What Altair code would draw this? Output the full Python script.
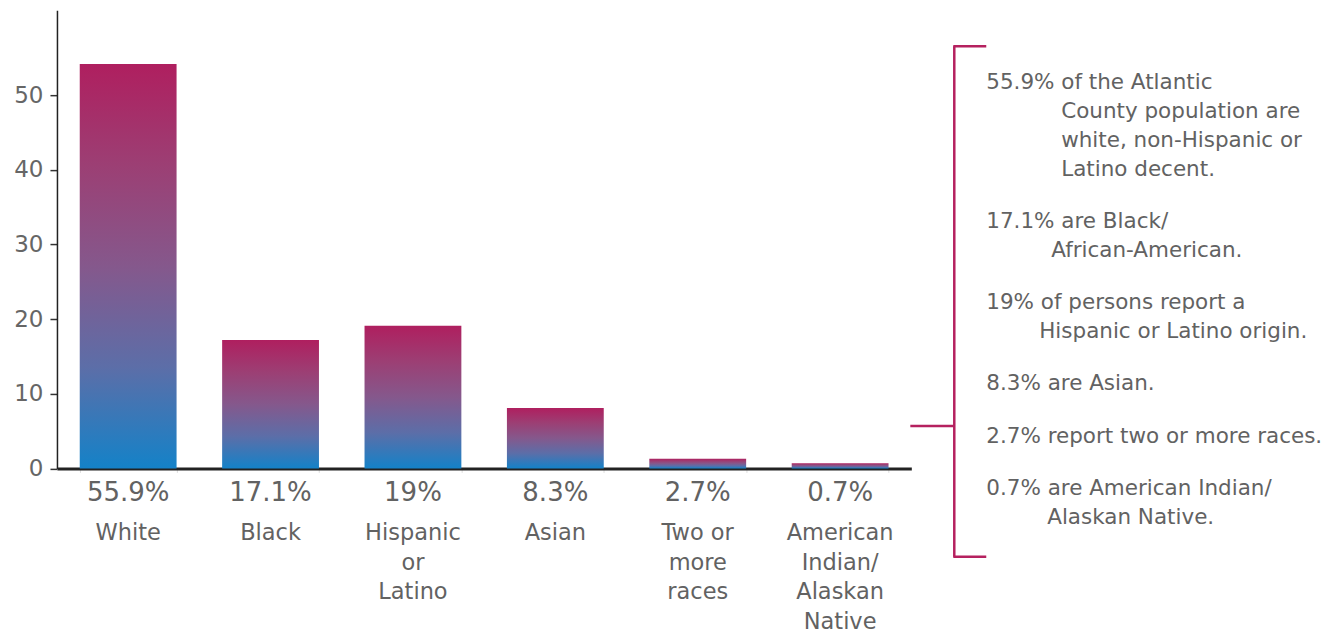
import altair as alt
import pandas as pd

# ---------------- data ----------------
categories = ["White", "Black", "Hispanic or Latino", "Asian",
              "Two or more races", "American Indian/Alaskan Native"]
cat_labels = ["White", "Black", "Hispanic\nor\nLatino", "Asian",
              "Two or\nmore\nraces", "American\nIndian/\nAlaskan\nNative"]
values = [54.2, 17.2, 19.1, 8.1, 1.3, 0.7]
pct_labels = ["55.9%", "17.1%", "19%", "8.3%", "2.7%", "0.7%"]
y_ticks = [0, 10, 20, 30, 40, 50]

notes = [
    ["55.9% of the Atlantic", "County population are",
     "white, non-Hispanic or", "Latino decent."],
    ["17.1% are Black/", "African-American."],
    ["19% of persons report a", "Hispanic or Latino origin."],
    ["8.3% are Asian."],
    ["2.7% report two or more races."],
    ["0.7% are American Indian/", "Alaskan Native."],
]

# ---------------- layout / style ----------------
FONT = "DejaVu Sans"
TEXT = "#626262"
MAG = "#B5215F"
W, H = 855, 458.5
Y_MAX = 61.4
note_indents = [75, 65, 53, 0, 0, 61]   # hanging indent of continuation lines
NOTE_X, NOTE_Y0, LINE_H, PARA_GAP = 930, 73, 28.8, 23.6

gradient = alt.LinearGradient(
    gradient="linear",
    stops=[
        alt.GradientStop(color="#AF1F5F", offset=0),
        alt.GradientStop(color="#9C3F74", offset=0.25),
        alt.GradientStop(color="#85588C", offset=0.5),
        alt.GradientStop(color="#5C6EA8", offset=0.75),
        alt.GradientStop(color="#1482C8", offset=1),
    ],
    x1=0, x2=0, y1=0, y2=1,
)

df = pd.DataFrame({"cat": categories, "label": cat_labels,
                   "value": values, "pct": pct_labels})
base = alt.Chart(df)

x_enc = alt.X(
    "cat:N", sort=categories,
    scale=alt.Scale(paddingInner=0.32, paddingOuter=0.16),
    axis=alt.Axis(labels=False, title=None, domainColor="#222", domainWidth=3,
                  ticks=True, tickBand="extent", tickColor="#dddddd", tickSize=4),
)

bars = base.mark_bar(color=gradient).encode(
    x=x_enc,
    y=alt.Y("value:Q",
            scale=alt.Scale(domain=[0, Y_MAX], nice=False, zero=True),
            axis=alt.Axis(values=y_ticks, title=None, grid=False,
                          tickSize=7, tickColor="#333", tickWidth=1.5,
                          domainColor="#222", domainWidth=1.5,
                          labelFont=FONT, labelFontSize=23, labelColor="#666",
                          labelPadding=7)),
)

pct = base.mark_text(font=FONT, fontSize=26, color=TEXT, baseline="middle").encode(
    x=alt.X("cat:N", sort=categories),
    y=alt.value(H + 25),
    text="pct:N",
)

cat_text = base.mark_text(font=FONT, fontSize=22.5, color=TEXT, baseline="top",
                          lineBreak="\n", lineHeight=29.5).encode(
    x=alt.X("cat:N", sort=categories),
    y=alt.value(H + 54),
    text="label:N",
)

one = pd.DataFrame({"k": [0]})
rule_style = dict(color=MAG, strokeWidth=2.5)
bracket = [
    alt.Chart(one).mark_rule(**rule_style).encode(
        x=alt.value(898), y=alt.value(36), y2=alt.value(547)),
    alt.Chart(one).mark_rule(**rule_style).encode(
        x=alt.value(897), x2=alt.value(930), y=alt.value(36)),
    alt.Chart(one).mark_rule(**rule_style).encode(
        x=alt.value(897), x2=alt.value(930), y=alt.value(547)),
    alt.Chart(one).mark_rule(**rule_style).encode(
        x=alt.value(854), x2=alt.value(898), y=alt.value(416)),
]

note_layers = []
line_no = 0
for p, para in enumerate(notes):
    for i, line in enumerate(para):
        yy = NOTE_Y0 + LINE_H * line_no + PARA_GAP * p
        xx = NOTE_X + (note_indents[p] if i > 0 else 0)
        note_layers.append(
            alt.Chart(pd.DataFrame({"t": [line]})).mark_text(
                font=FONT, fontSize=21.5, color=TEXT, align="left", baseline="middle"
            ).encode(x=alt.value(xx), y=alt.value(yy), text="t:N")
        )
        line_no += 1

chart = alt.layer(bars, pct, cat_text, *bracket, *note_layers).properties(
    width=W, height=H,
    autosize=alt.AutoSizeParams(type="none"),
    padding={"left": 49, "top": 2, "right": 420, "bottom": 165},
).configure_view(stroke=None)

chart.save("out.html", embed_options={"renderer": "svg", "actions": False})
